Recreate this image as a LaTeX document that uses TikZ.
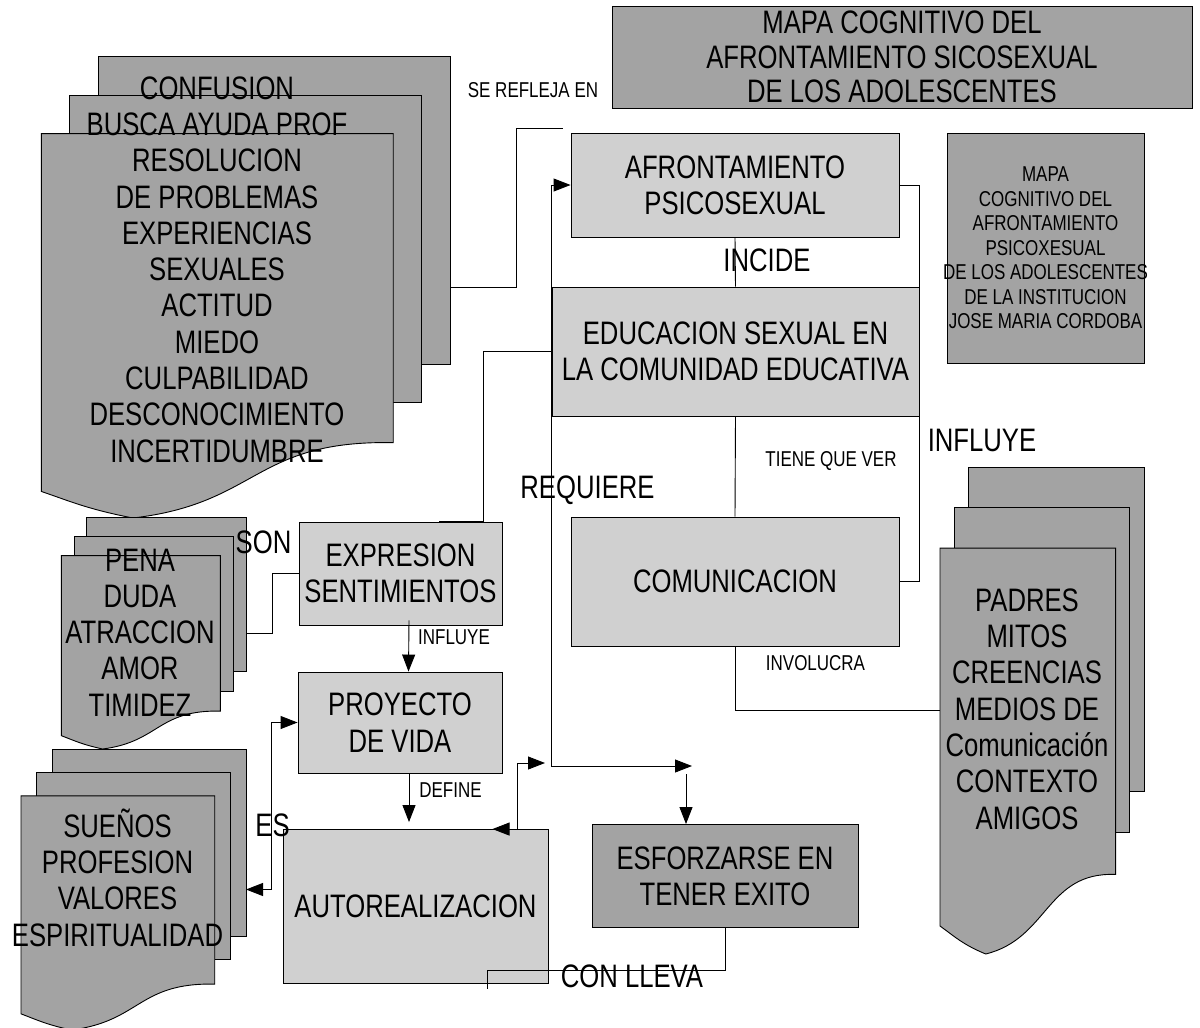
\documentclass[tikz,border=0pt]{standalone}
\usepackage{fontspec}
\setmainfont{Liberation Sans}[FakeStretch=0.79]
\usepackage{tikz}
\usetikzlibrary{calc}
\usetikzlibrary{arrows.meta}
\definecolor{sheetgray}{RGB}{163, 163, 163}
\definecolor{boxgray}{RGB}{208, 208, 208}

\tikzset{
  sheet/.style={draw=black, fill=sheetgray, line width=0.9pt},
  bigfont/.style={font=\fontsize{32.5}{36.3}\selectfont},
  smallfont/.style={font=\fontsize{21.5}{24.5}\selectfont},
  box/.style={draw=black, fill=boxgray, line width=0.9pt, inner sep=0pt, align=center, bigfont},
  darkbox/.style={box, fill=sheetgray},
  conn/.style={line width=0.9pt},
  arr/.style={conn, -{Triangle[length=17pt,width=13pt]}},
  darr/.style={conn, {Triangle[length=17pt,width=13pt]}-{Triangle[length=17pt,width=13pt]}},
}

\newcommand\docstack[5]{%
  \pgfmathsetmacro\sdx{0.0694*(#4-#2)}%
  \pgfmathsetmacro\sdy{0.0833*(#5-#3)}%
  \pgfmathsetmacro\sfr{#4-2*\sdx}%
  \pgfmathsetmacro\sft{#3+2*\sdy}%
  \pgfmathsetmacro\sfw{\sfr-#2}%
  \pgfmathsetmacro\sfh{#5-\sft}%
  \pgfmathsetmacro\sw{#4-#2}%
  \pgfmathsetmacro\sh{#5-#3}%
  \filldraw[sheet] (#2+2*\sdx,#3)    rectangle (#4,{#3+0.667*(#5-#3)});
  \filldraw[sheet] (#2+\sdx,#3+\sdy) rectangle (#4-\sdx,{#3+0.75*(#5-#3)});
  \filldraw[sheet] (#2,\sft) -- (\sfr,\sft) -- (\sfr,\sft+0.804*\sfh)
      .. controls (#2+0.604*\sfw,\sft+0.797*\sfh) and (#2+0.618*\sfw,\sft+0.962*\sfh) .. (#2+0.26*\sfw,#5)
      .. controls (#2+0.132*\sfw,\sft+0.977*\sfh) and (#2+0.086*\sfw,\sft+0.958*\sfh) .. (#2,\sft+0.931*\sfh) -- cycle;
  \node[inner sep=0pt, outer sep=0pt, minimum width=\sw pt, minimum height=\sh pt] (#1) at ({(#2+#4)/2},{(#3+#5)/2}) {};
}

\begin{document}
\begin{tikzpicture}[x=1pt,y=-1pt]
  \useasboundingbox (0,0) rectangle (1200,1028);

  \docstack{dudas}{41.4}{56.7}{450}{518}
  \docstack{emociones}{61.3}{517}{246}{749}
  \docstack{metas}{21}{749}{246}{1030}
  \docstack{entorno}{940}{467}{1144}{954}

  \node[darkbox, minimum width=580pt, minimum height=102pt, font=\fontsize{32.5}{34.5}\selectfont] (titulo) at (902,57)
       {MAPA COGNITIVO DEL\\AFRONTAMIENTO SICOSEXUAL\\DE LOS ADOLESCENTES};
  \node[darkbox, minimum width=197pt, minimum height=230pt] (mapa) at (1045.5,248) {};
  \node[smallfont, align=center] (mapa-t) at (mapa)
       {MAPA\\COGNITIVO DEL\\AFRONTAMIENTO\\PSICOXESUAL\\DE LOS ADOLESCENTES\\DE LA INSTITUCION\\JOSE MARIA CORDOBA};

  \node[box, minimum width=328pt, minimum height=104pt] (afront) at (735,185)     {AFRONTAMIENTO\\PSICOSEXUAL};
  \node[box, minimum width=367pt, minimum height=129pt] (edu)    at (735.5,351.5) {EDUCACION SEXUAL EN\\LA COMUNIDAD EDUCATIVA};
  \node[box, minimum width=328pt, minimum height=129pt] (comun)  at (735,581.5)   {COMUNICACION};
  \node[box, minimum width=203pt, minimum height=103pt] (expr)   at (400.5,573.5) {EXPRESION\\SENTIMIENTOS};
  \node[box, minimum width=204pt, minimum height=101pt] (proy)   at (400,722.5)   {PROYECTO\\DE VIDA};
  \node[box, minimum width=265pt, minimum height=154pt] (auto)   at (415.5,906.5) {AUTOREALIZACION};
  \node[darkbox, minimum width=266pt, minimum height=103pt] (esf) at (725,876)    {ESFORZARSE EN\\TENER EXITO};

  \coordinate (refleja) at (563,128);
  \coordinate (req)     at (692,766);
  \coordinate (reqdown) at (686,774);
  \coordinate (logro)   at (545,763);

  \draw[conn] (dudas.east) -- ++(66,0) |- (refleja);
  \draw[darr] (afront.west) -- (afront.west -| edu.west) -- (edu.west |- req) -- (req);
  \draw[arr]  (reqdown) -- (reqdown |- esf.north);
  \draw[conn] (afront.east) -- (afront.east -| edu.east) -- (edu.east |- comun.east) -- (comun.east);
  \draw[conn] (afront.south) -- (edu.north);
  \draw[conn] (edu.south) -- (comun.north);
  \draw[conn] (comun.south) -- (comun.south |- entorno.west) -- (entorno.west);
  \draw[conn] (edu.west) -- ++(-68,0) |- ([xshift=38pt]expr.north);
  \draw[conn] (expr.west) -- ++(-26,0) |- (emociones.east);
  \draw[arr]  ([xshift=8.5pt,yshift=5pt]expr.south) -- ([xshift=8.5pt]proy.north);
  \draw[arr,shorten >=7pt] ([xshift=9pt]proy.south) -- ([xshift=9pt]proy.south |- auto.north);
  \draw[darr] (proy.west) -- ++(-26,0) |- (metas.east);
  \draw[darr] ([xshift=77pt]auto.north) -- ([xshift=102pt]auto.north) |- (logro);
  \draw[conn] (esf.south) -- ++(0,42) -| ++(-238,19);

  \node[bigfont, align=center] (dudas-t)     at (217,269.5)  {CONFUSION\\BUSCA AYUDA PROF\\RESOLUCION\\DE PROBLEMAS\\EXPERIENCIAS\\SEXUALES\\ACTITUD\\MIEDO\\CULPABILIDAD\\DESCONOCIMIENTO\\INCERTIDUMBRE};
  \node[bigfont, align=center] (emociones-t) at (140,632.5)  {PENA\\DUDA\\ATRACCION\\AMOR\\TIMIDEZ};
  \node[bigfont, align=center] (metas-t)     at (117.5,877.5) {SUEÑOS\\PROFESION\\VALORES\\ESPIRITUALIDAD};
  \node[bigfont, align=center] (entorno-t)   at (1027,709)   {PADRES\\MITOS\\CREENCIAS\\MEDIOS DE\\Comunicación\\CONTEXTO\\AMIGOS};

  \node[smallfont] (refl)      at (533,90)      {SE REFLEJA EN};
  \node[bigfont]   (incide)    at (767,260)     {INCIDE};
  \node[smallfont] (tiene)     at (831,461)     {TIENE QUE VER};
  \node[bigfont]   (influye)   at (982,440)     {INFLUYE};
  \node[bigfont]   (requiere)  at (587.5,490.5) {REQUIERE};
  \node[bigfont]   (son)       at (263.5,542)   {SON};
  \node[smallfont] (influye2)  at (454,637.5)   {INFLUYE};
  \node[smallfont] (define)    at (450.5,790.5) {DEFINE};
  \node[smallfont] (involucra) at (815.5,663.5) {INVOLUCRA};
  \node[bigfont]   (es)        at (272.5,825.5) {ES};
  \node[bigfont]   (conlleva)  at (632,976)     {CON LLEVA};
\end{tikzpicture}
\end{document}
